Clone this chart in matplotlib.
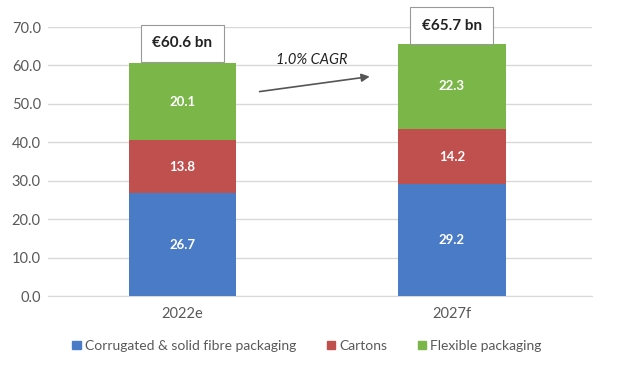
import matplotlib.pyplot as plt
from matplotlib.patches import Patch

plt.rcParams['font.family'] = ['Lato', 'DejaVu Sans']

years = ['2022e', '2027f']
corrugated = [26.7, 29.2]
cartons = [13.8, 14.2]
flexible = [20.1, 22.3]
totals = ['€60.6 bn', '€65.7 bn']
series_names = ['Corrugated & solid fibre packaging', 'Cartons', 'Flexible packaging']
colors = ['#4A7BC6', '#C0504D', '#7AB648']

fig = plt.figure(figsize=(6.2, 3.7), dpi=100)
ax = fig.add_axes([0.077, 0.2, 0.878, 0.727])

x = range(len(years))
bottom = [0, 0]
for vals, col in zip([corrugated, cartons, flexible], colors):
    ax.bar(x, vals, width=0.4, bottom=bottom, color=col, zorder=3)
    for i, v in enumerate(vals):
        ax.text(i, bottom[i] + v / 2, f'{v:.1f}', ha='center', va='center',
                color='white', fontsize=9.5, fontweight='bold', zorder=4)
    bottom = [b + v for b, v in zip(bottom, vals)]

# total boxes above bars
box_y = [65.8, 70.3]
for i, t in enumerate(totals):
    ax.text(i, box_y[i], t, ha='center', va='center', fontsize=11, fontweight='bold',
            color='#222222', zorder=5, clip_on=False,
            bbox=dict(boxstyle='square,pad=0.75', fc='white', ec='#999999', lw=0.8))

# CAGR arrow
ax.annotate('', xy=(0.705, 57.2), xytext=(0.276, 53.1),
            arrowprops=dict(arrowstyle='-|>', color='#555555', lw=1.2, mutation_scale=12))
ax.text(0.48, 61.3, '1.0% CAGR', ha='center', va='center', fontsize=10.5,
        style='italic', color='#222222')

ax.set_xlim(-0.5, 1.52)
ax.set_ylim(0, 70)
ax.set_yticks(range(0, 71, 10))
ax.set_yticklabels([f'{v:.1f}' for v in range(0, 71, 10)])
ax.set_xticks(list(x))
ax.set_xticklabels(years)
ax.grid(axis='y', color='#d9d9d9', lw=1, zorder=0)
for s in ['top', 'right', 'left']:
    ax.spines[s].set_visible(False)
ax.spines['bottom'].set_color('#d9d9d9')
ax.tick_params(length=0, labelsize=10.5, colors='#595959', pad=8)
ax.tick_params(axis='y', pad=5)

handles = [Patch(color=c) for c in colors]
fig.legend(handles, series_names, loc='center', bbox_to_anchor=(0.495, 0.065), ncol=3,
           frameon=False, fontsize=10, labelcolor='#595959', handlelength=0.6,
           handleheight=0.6, handletextpad=0.3, columnspacing=2.2)

fig.savefig('out.png', dpi=100)
